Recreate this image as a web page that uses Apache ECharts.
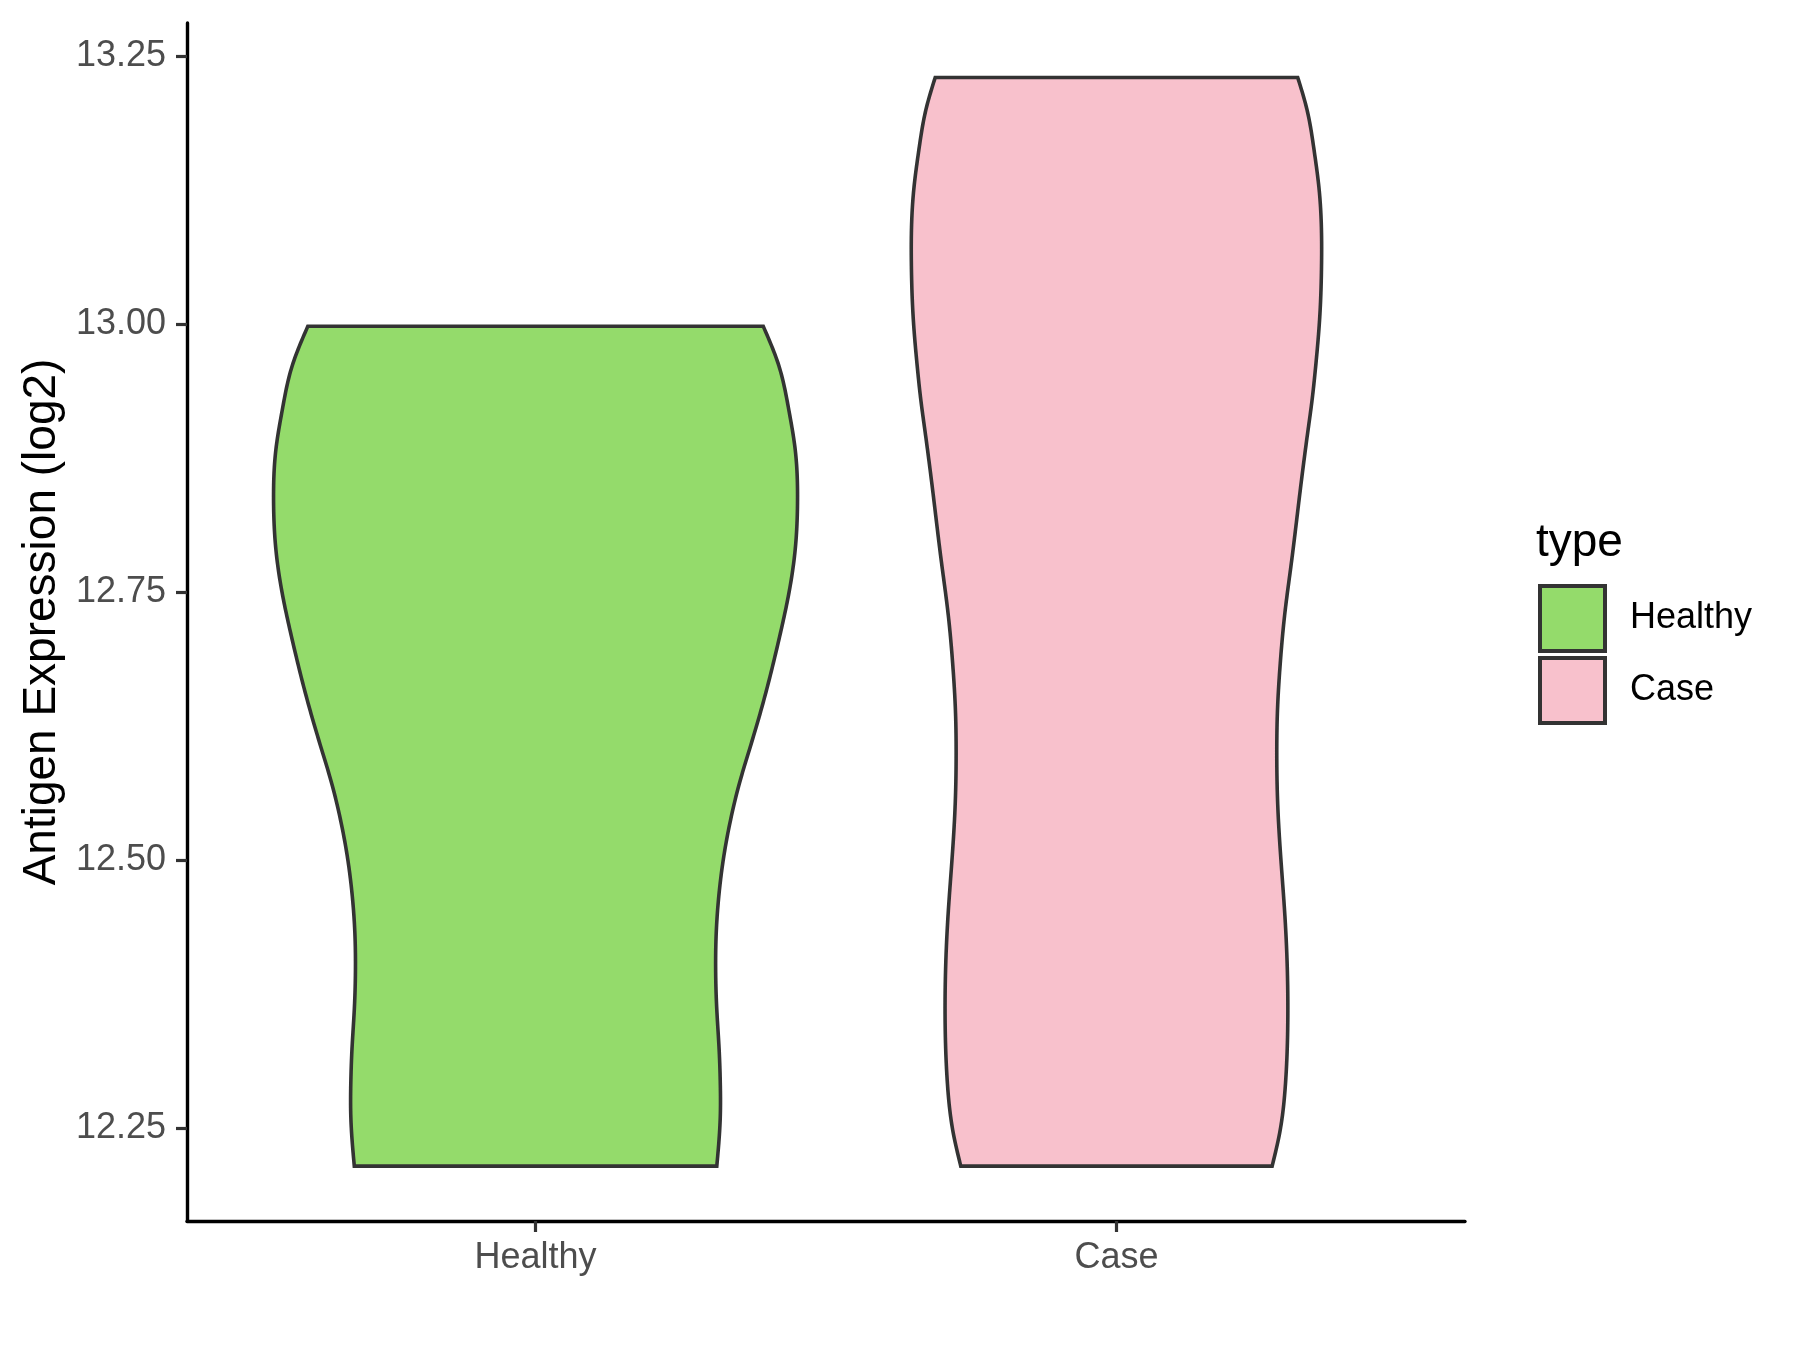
<!DOCTYPE html>
<html><head><meta charset="utf-8">
<script src="https://cdn.jsdelivr.net/npm/echarts@6/dist/echarts.min.js"></script>
<style>html,body{margin:0;padding:0;background:#fff}#c{width:1800px;height:1350px}</style>
</head><body><div id="c"></div>
<script>
// ---- data ----
const categories = ['Healthy', 'Case'];
const yTicks = [12.25, 12.5, 12.75, 13.0, 13.25];
// violin outline: expression value and half-width (in category units)
const healthyY = [12.998, 12.961, 12.920, 12.883, 12.836, 12.790, 12.746, 12.706, 12.668, 12.634, 12.603, 12.572, 12.541, 12.507, 12.464, 12.432, 12.401, 12.361, 12.324, 12.293, 12.261, 12.227, 12.215];
const healthyHalfWidth = [0.392, 0.419, 0.436, 0.447, 0.451, 0.447, 0.435, 0.419, 0.402, 0.385, 0.368, 0.351, 0.337, 0.325, 0.315, 0.311, 0.310, 0.312, 0.316, 0.318, 0.318, 0.314, 0.312];
const caseY = [13.230, 13.200, 13.163, 13.125, 13.085, 13.054, 13.007, 12.961, 12.926, 12.902, 12.839, 12.777, 12.731, 12.684, 12.637, 12.606, 12.547, 12.494, 12.448, 12.401, 12.354, 12.292, 12.246, 12.215];
const caseHalfWidth = [0.312, 0.328, 0.340, 0.349, 0.353, 0.353, 0.350, 0.343, 0.336, 0.330, 0.315, 0.301, 0.290, 0.282, 0.277, 0.276, 0.278, 0.284, 0.290, 0.294, 0.295, 0.291, 0.281, 0.268];
const fillColors = ['#94DB6B', '#F8C1CC'];

const groups = [
  {y: healthyY, hw: healthyHalfWidth},
  {y: caseY, hw: caseHalfWidth}
];
const FONT = '"Liberation Sans", Arial, Helvetica, sans-serif';

// natural cubic spline of px as a function of py (pixel space), for drawing a smooth outline
function smoothSide(pts, step) {
  const p = pts.slice().sort((a, b) => a[1] - b[1]);
  const n = p.length;
  const t = p.map(q => q[1]), x = p.map(q => q[0]);
  const h = [], al = [], l = [1], mu = [0], z = [0], c = new Array(n).fill(0), b = [], d = [];
  for (let i = 0; i < n - 1; i++) h.push(t[i + 1] - t[i]);
  for (let i = 1; i < n - 1; i++) al[i] = 3 / h[i] * (x[i + 1] - x[i]) - 3 / h[i - 1] * (x[i] - x[i - 1]);
  for (let i = 1; i < n - 1; i++) {
    l[i] = 2 * (t[i + 1] - t[i - 1]) - h[i - 1] * mu[i - 1];
    mu[i] = h[i] / l[i];
    z[i] = (al[i] - h[i - 1] * z[i - 1]) / l[i];
  }
  l[n - 1] = 1; z[n - 1] = 0; c[n - 1] = 0;
  for (let j = n - 2; j >= 0; j--) {
    c[j] = z[j] - mu[j] * c[j + 1];
    b[j] = (x[j + 1] - x[j]) / h[j] - h[j] * (c[j + 1] + 2 * c[j]) / 3;
    d[j] = (c[j + 1] - c[j]) / (3 * h[j]);
  }
  const out = [];
  for (let j = 0; j < n - 1; j++) {
    const m = Math.max(1, Math.ceil(h[j] / step));
    for (let s = 0; s < m; s++) {
      const dt = h[j] * s / m;
      out.push([x[j] + b[j] * dt + c[j] * dt * dt + d[j] * dt * dt * dt, t[j] + dt]);
    }
  }
  out.push([x[n - 1], t[n - 1]]);
  return out;
}

function makeRender(gi) {
  return function (params, api) {
    const g = groups[gi];
    const center = gi + 1;
    const left = g.y.map((v, i) => api.coord([center - g.hw[i], v]));
    const right = g.y.map((v, i) => api.coord([center + g.hw[i], v]));
    const pts = smoothSide(left, 3).concat(smoothSide(right, 3).reverse());
    return {
      type: 'polygon',
      shape: {points: pts},
      style: {fill: fillColors[gi], stroke: '#333333', lineWidth: 3.6, lineJoin: 'miter'}
    };
  };
}

const chart = echarts.init(document.getElementById('c'));
chart.setOption({
  backgroundColor: '#ffffff',
  animation: false,
  title: {
    text: 'type', left: 1536, top: 520, padding: 0,
    textStyle: {fontSize: 46, fontWeight: 'normal', color: '#000', fontFamily: FONT}
  },
  legend: {
    orient: 'vertical', left: 1538, top: 584, padding: 0,
    itemWidth: 65, itemHeight: 65, itemGap: 3, icon: 'rect', selectedMode: false,
    textStyle: {fontSize: 36, color: '#000', fontFamily: FONT, padding: [11, 0, 0, 20]},
    itemStyle: {borderColor: '#333333', borderWidth: 4},
    data: categories.map((c, i) => ({name: c, icon: 'rect', itemStyle: {color: fillColors[i], borderColor: '#333333', borderWidth: 4}}))
  },
  grid: {left: 187, right: 335, top: 23, bottom: 129},
  xAxis: {
    type: 'value', min: 0.4, max: 2.6,
    splitLine: {show: false},
    axisLine: {show: true, lineStyle: {color: '#000', width: 3.4}},
    axisTick: {show: true, length: 11, lineStyle: {color: '#333', width: 3.2}, customValues: [1, 2]},
    axisLabel: {
      customValues: [1, 2], margin: 19, fontSize: 36, color: '#4D4D4D', fontFamily: FONT,
      formatter: v => categories[Math.round(v) - 1]
    }
  },
  yAxis: {
    type: 'value', min: 12.1638, max: 13.2808,
    name: 'Antigen Expression (log2)', nameLocation: 'middle', nameGap: 120,
    nameTextStyle: {fontSize: 46, color: '#000', fontFamily: FONT},
    splitLine: {show: false},
    axisLine: {show: true, lineStyle: {color: '#000', width: 3.4}},
    axisTick: {show: true, length: 11, lineStyle: {color: '#333', width: 3.2}, customValues: yTicks},
    axisLabel: {
      customValues: yTicks, margin: 21, fontSize: 36, color: '#4D4D4D', fontFamily: FONT,
      formatter: v => v.toFixed(2)
    }
  },
  series: categories.map((c, i) => ({
    name: c, type: 'custom', coordinateSystem: 'cartesian2d',
    itemStyle: {color: fillColors[i], borderColor: '#333333', borderWidth: 4},
    renderItem: makeRender(i),
    data: [[i + 1, 12.6]],
    silent: true
  }))
});
</script></body></html>
